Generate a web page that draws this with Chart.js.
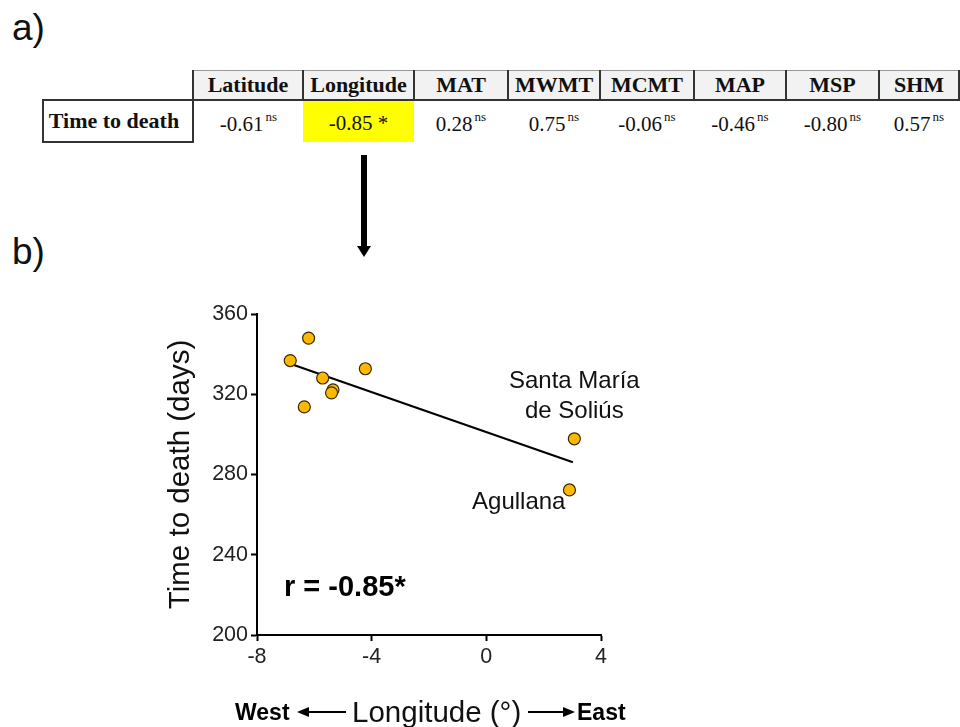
<!DOCTYPE html>
<html>
<head>
  <meta charset="utf-8">
  <title>Time to death vs longitude</title>
  <script src="https://cdn.jsdelivr.net/npm/chart.js"></script>
  <style>
    body { margin: 0; width: 960px; height: 727px; position: relative; background: #fff; overflow: hidden; font-family: "Liberation Sans", Arial, sans-serif; }
    .panel { position: absolute; font-size: 37px; color: #111; }
    #corrTable { position: absolute; left: 42px; top: 70px; border-collapse: collapse; table-layout: fixed; font-family: "Liberation Serif", "Times New Roman", serif; font-size: 21px; color: #111; }
    #corrTable th { background: #f2f2f2; font-weight: bold; font-size: 22px; height: 28px; padding: 0; border-top: 1px solid #999; border-bottom: 2px solid #333; border-left: 2px solid #333; border-right: 2px solid #333; text-align: center; }
    #corrTable th.blank { background: none; border: none; border-bottom: 2px solid #333; }
    #corrTable td { height: 38px; padding: 0; padding-top: 3px; text-align: center; }
    #corrTable td.rowhead { font-weight: bold; font-size: 22px; border: 2px solid #333; padding-top: 0; padding-right: 8px; }
    #corrTable td.sig { background: #ffff00; }
    #corrTable sup { font-size: 13px; vertical-align: 10px; margin-left: 2px; }
    #arrowDown { position: absolute; left: 361px; top: 155px; width: 6px; height: 92px; background: #000; }
    #arrowHead { position: absolute; left: 357px; top: 246px; width: 0; height: 0; border-left: 7px solid transparent; border-right: 7px solid transparent; border-top: 11px solid #000; }
    #chartBox { position: absolute; left: 0; top: 280px; width: 960px; height: 420px; }
    #xTitle { position: absolute; top: 694px; left: 0; width: 960px; height: 36px; }
    #xTitle span { position: absolute; top: 0; line-height: 36px; white-space: nowrap; }
    .dir { font-weight: bold; font-size: 23px; color: #000; }
    .lbl { font-size: 29.5px; color: #111; }
    .line { position: absolute; height: 2px; background: #000; top: 17px; }
    .headL { position: absolute; top: 13px; width: 0; height: 0; border-top: 5px solid transparent; border-bottom: 5px solid transparent; border-right: 12px solid #000; }
    .headR { position: absolute; top: 13px; width: 0; height: 0; border-top: 5px solid transparent; border-bottom: 5px solid transparent; border-left: 12px solid #000; }
  </style>
</head>
<body>
  <div class="panel" style="left:12px; top:7px;">a)</div>
  <div class="panel" style="left:12px; top:231px;">b)</div>

  <table id="corrTable">
    <colgroup id="cols"></colgroup>
    <tr id="headRow"><th class="blank"></th></tr>
    <tr id="valRow"><td class="rowhead">Time to death</td></tr>
  </table>

  <div id="arrowDown"></div>
  <div id="arrowHead"></div>

  <div id="chartBox"><canvas id="chart"></canvas></div>

  <div id="xTitle">
    <span class="dir" style="left:235px;">West</span>
    <div class="headL" style="left:297px;"></div>
    <div class="line" style="left:305px; width:41px;"></div>
    <span class="lbl" style="left:352px;">Longitude (°)</span>
    <div class="line" style="left:528px; width:40px;"></div>
    <div class="headR" style="left:563px;"></div>
    <span class="dir" style="left:577px;">East</span>
  </div>

  <script>
    // panel a: correlation of time to death with each site variable
    const tableHeaders = ['Latitude', 'Longitude', 'MAT', 'MWMT', 'MCMT', 'MAP', 'MSP', 'SHM'];
    const tableValues  = ['-0.61', '-0.85', '0.28', '0.75', '-0.06', '-0.46', '-0.80', '0.57'];
    const tableSig     = ['ns', '*', 'ns', 'ns', 'ns', 'ns', 'ns', 'ns'];
    const colWidths    = [150, 110, 111, 94, 92, 94, 92, 93, 80];

    // panel b: sites
    const siteLon   = [-6.84, -6.20, -6.35, -5.71, -5.35, -5.40, -4.22, 3.07, 2.90];
    const siteDays  = [336.8, 348.0, 313.7, 328.1, 322.2, 320.7, 332.7, 297.8, 272.3];
    const siteNames = ['', '', '', '', '', '', '', 'Santa María|de Soliús', 'Agullana'];
    const fitLon  = [-6.84, 3.02];
    const fitDays = [335.2, 286.1];
    const xTicks = [-8, -4, 0, 4];
    const yTicks = [200, 240, 280, 320, 360];
    const rText = 'r = -0.85*';

    // build table
    const cols = document.getElementById('cols');
    colWidths.forEach(w => {
      const c = document.createElement('col');
      c.style.width = w + 'px';
      cols.appendChild(c);
    });
    const headRow = document.getElementById('headRow');
    const valRow = document.getElementById('valRow');
    tableHeaders.forEach((h, i) => {
      const th = document.createElement('th');
      th.textContent = h;
      headRow.appendChild(th);
      const td = document.createElement('td');
      if (tableSig[i] === '*') {
        td.className = 'sig';
        td.textContent = tableValues[i] + ' *';
      } else {
        td.innerHTML = tableValues[i] + '<sup>' + tableSig[i] + '</sup>';
      }
      valRow.appendChild(td);
    });

    const labelPlugin = {
      id: 'siteLabels',
      afterDatasetsDraw(chart) {
        const ctx = chart.ctx;
        const xs = chart.scales.x, ys = chart.scales.y;
        ctx.save();
        ctx.fillStyle = '#111';
        ctx.textBaseline = 'middle';
        ctx.font = '24px "Liberation Sans", Arial, sans-serif';
        siteNames.forEach((name, i) => {
          if (!name) return;
          const px = xs.getPixelForValue(siteLon[i]);
          const py = ys.getPixelForValue(siteDays[i]);
          if (name.includes('|')) {
            const lines = name.split('|');
            ctx.textAlign = 'center';
            ctx.fillText(lines[0], px, py - 57);
            ctx.fillText(lines[1], px, py - 27);
          } else {
            ctx.textAlign = 'right';
            ctx.fillText(name, px - 4, py + 12);
          }
        });
        const a = chart.chartArea;
        ctx.font = 'bold 29px "Liberation Sans", Arial, sans-serif';
        ctx.textAlign = 'left';
        ctx.fillStyle = '#000';
        ctx.fillText(rText, a.left + 27, a.bottom - 47);
        ctx.restore();
      }
    };

    window.onload = () => {
      const ctx = document.getElementById('chart').getContext('2d');
      new Chart(ctx, {
        type: 'scatter',
        data: {
          datasets: [{
            label: 'Sites',
            data: siteLon.map((x, i) => ({ x: x, y: siteDays[i] })),
            backgroundColor: '#ffb800',
            borderColor: '#3a2a00',
            borderWidth: 1.2,
            pointRadius: 6,
            order: 1
          }, {
            type: 'line',
            label: 'Fit',
            data: fitLon.map((x, i) => ({ x: x, y: fitDays[i] })),
            borderColor: '#000',
            borderWidth: 2,
            pointRadius: 0,
            fill: false,
            order: 2
          }]
        },
        options: {
          responsive: true,
          maintainAspectRatio: false,
          animation: false,
          layout: { padding: { left: 163, right: 359, top: 34, bottom: 0 } },
          plugins: { legend: { display: false }, tooltip: { enabled: false } },
          scales: {
            x: {
              type: 'linear', min: -8, max: 4,
              afterBuildTicks: s => { s.ticks = xTicks.map(v => ({ value: v })); },
              afterFit: s => { s.height = 65; },
              grid: { display: true, drawOnChartArea: false, drawTicks: true, tickLength: 6, color: '#000', tickWidth: 2 },
              border: { display: true, color: '#000', width: 2 },
              ticks: { color: '#222', padding: 3, font: { family: '"Liberation Sans", Arial, sans-serif', size: 21.5 } },
              title: { display: false }
            },
            y: {
              min: 200, max: 360,
              afterBuildTicks: s => { s.ticks = yTicks.map(v => ({ value: v })); },
              afterFit: s => { s.width = 94; },
              grid: { display: true, drawOnChartArea: false, drawTicks: true, tickLength: 6, color: '#000', tickWidth: 2 },
              border: { display: true, color: '#000', width: 2 },
              ticks: { color: '#222', padding: 3, font: { family: '"Liberation Sans", Arial, sans-serif', size: 21.5 } },
              title: { display: true, text: 'Time to death (days)', color: '#111', padding: 0,
                       font: { family: '"Liberation Sans", Arial, sans-serif', size: 29.5 } }
            }
          }
        },
        plugins: [labelPlugin]
      });
    };
  </script>
</body>
</html>
